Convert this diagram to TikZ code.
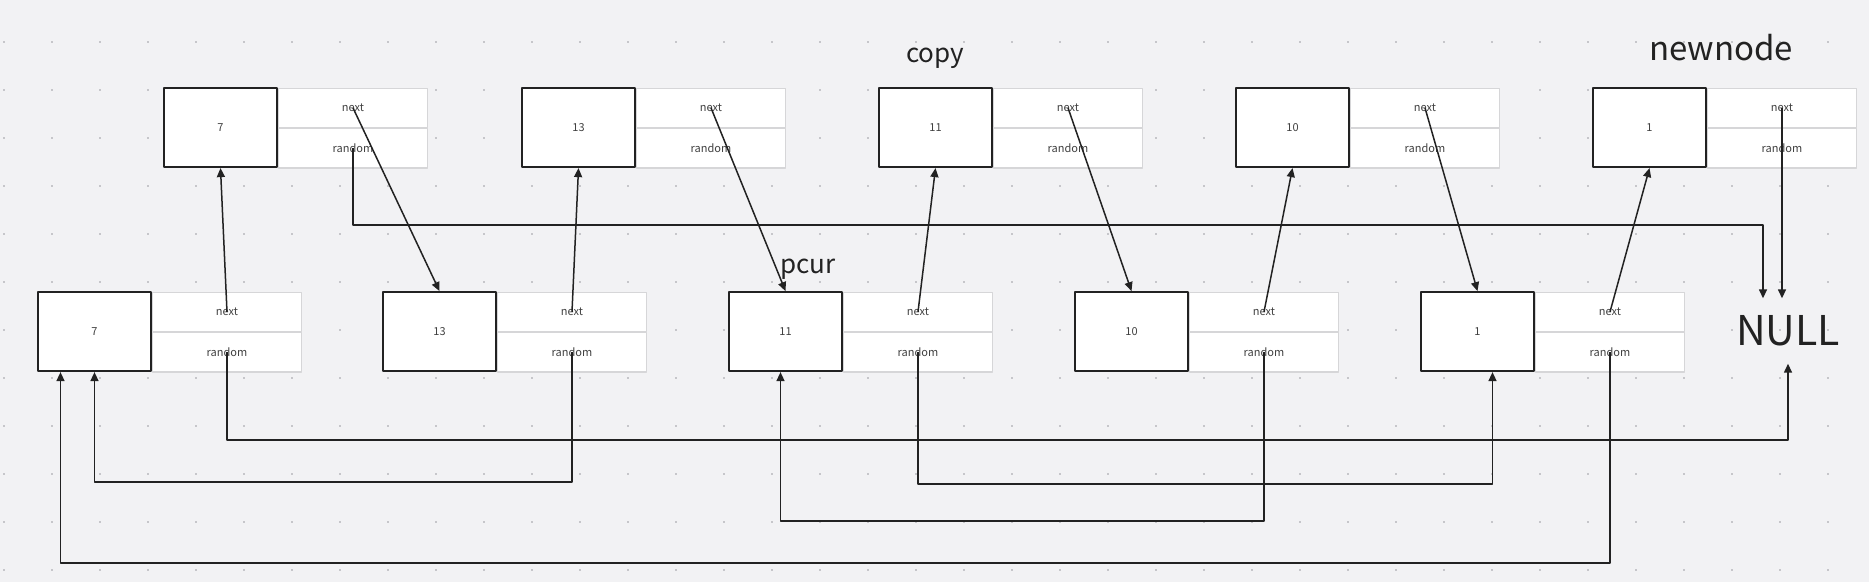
\documentclass[tikz,border=0pt]{standalone}
\usepackage{fontspec}
\setmainfont{Noto Sans CJK SC}
\usetikzlibrary{arrows.meta}
\definecolor{bgcol}{RGB}{242,242,244}
\definecolor{dotcol}{RGB}{198,198,202}
\definecolor{inkcol}{RGB}{34,34,34}
\definecolor{fieldcol}{RGB}{214,214,216}
\definecolor{txtcol}{RGB}{64,64,64}
\tikzset{
  valbox/.style={draw=inkcol, line width=2.2pt, fill=white, minimum width=112.8pt, minimum height=78.8pt, inner sep=0pt, text=txtcol, font=\fontsize{11}{13}\selectfont},
  fieldbox/.style={draw=fieldcol, line width=1.3pt, fill=white, minimum width=148.7pt, minimum height=39.2pt, inner sep=0pt, text=txtcol, font=\fontsize{11}{13}\selectfont},
  ptr/.style={draw=inkcol, line width=1.5pt},
  tag/.style={text=inkcol, inner sep=0pt, font=\fontsize{26}{28}\selectfont}
}
\begin{document}
\begin{tikzpicture}[x=1pt, y=-1pt, line join=round, >={Triangle[length=9pt,width=8pt]}]
  \fill[bgcol] (0,0) rectangle (1869,582);
  \useasboundingbox (0,0) rectangle (1869,582);
  \foreach \i in {0,...,38}
    \foreach \j in {0,...,11}
      \fill[dotcol] ({3+48*\i},{41+48*\j}) rectangle ++(2.4,2.4);
  \def\ytop{87.6}
  \def\ybot{291.6}
  \def\yA{440}
  \def\yB{482}
  \def\yC{484}
  \def\yD{521}
  \def\yE{563}
  \def\yF{225}
  \foreach \i/\v/\x in {1/7/163, 2/13/521, 3/11/878, 4/10/1235, 5/1/1592} {
    \node[fieldbox, anchor=north west] (cn\i) at (\x+115,\ytop) {next};
    \node[fieldbox, anchor=north west] (cr\i) at (cn\i.south west) {random};
    \node[valbox, anchor=north east] (cv\i) at ([yshift=0.5pt]cn\i.north west) {\v};
  }
  \foreach \i/\v/\x in {1/7/37, 2/13/382, 3/11/728, 4/10/1074, 5/1/1420} {
    \node[fieldbox, anchor=north west] (on\i) at (\x+115,\ybot) {next};
    \node[fieldbox, anchor=north west] (or\i) at (on\i.south west) {random};
    \node[valbox, anchor=north east] (ov\i) at ([yshift=0.5pt]on\i.north west) {\v};
  }
  \node[tag, anchor=base] (copy) at (935,62) {copy};
  \node[tag, anchor=base] (pcur) at (808,273) {pcur};
  \node[tag, anchor=base, font=\fontsize{33}{35}\selectfont] (newnode) at (1721,60) {newnode};
  \node[text=inkcol, inner sep=0pt, minimum height=65pt, font=\fontsize{41}{44}\selectfont] (null) at (1788,331) {NULL};
  \foreach \i/\j in {1/2, 2/3, 3/4, 4/5}
    \draw[ptr,->] (cn\i.center) -- (ov\j.north);
  \foreach \i in {1,...,5}
    \draw[ptr,->] (on\i.center) -- (cv\i.south);
  \draw[ptr,->] (cn5.center) -- (cn5.center |- null.north);
  \draw[ptr,->] (cr1.center) -- (cr1.center |- 0,\yF) -| ([xshift=-25pt]null.north);
  \draw[ptr,->] (or1.center) -- (or1.center |- 0,\yA) -| (null.south);
  \draw[ptr,->] (or2.center) -- (or2.center |- 0,\yB) -| (ov1.south);
  \draw[ptr,->] (or3.center) -- (or3.center |- 0,\yC) -| ([xshift=15pt]ov5.south);
  \draw[ptr,->] (or4.center) -- (or4.center |- 0,\yD) -| ([xshift=-5pt]ov3.south);
  \draw[ptr,->] (or5.center) -- (or5.center |- 0,\yE) -| ([xshift=-34pt]ov1.south);
\end{tikzpicture}
\end{document}
